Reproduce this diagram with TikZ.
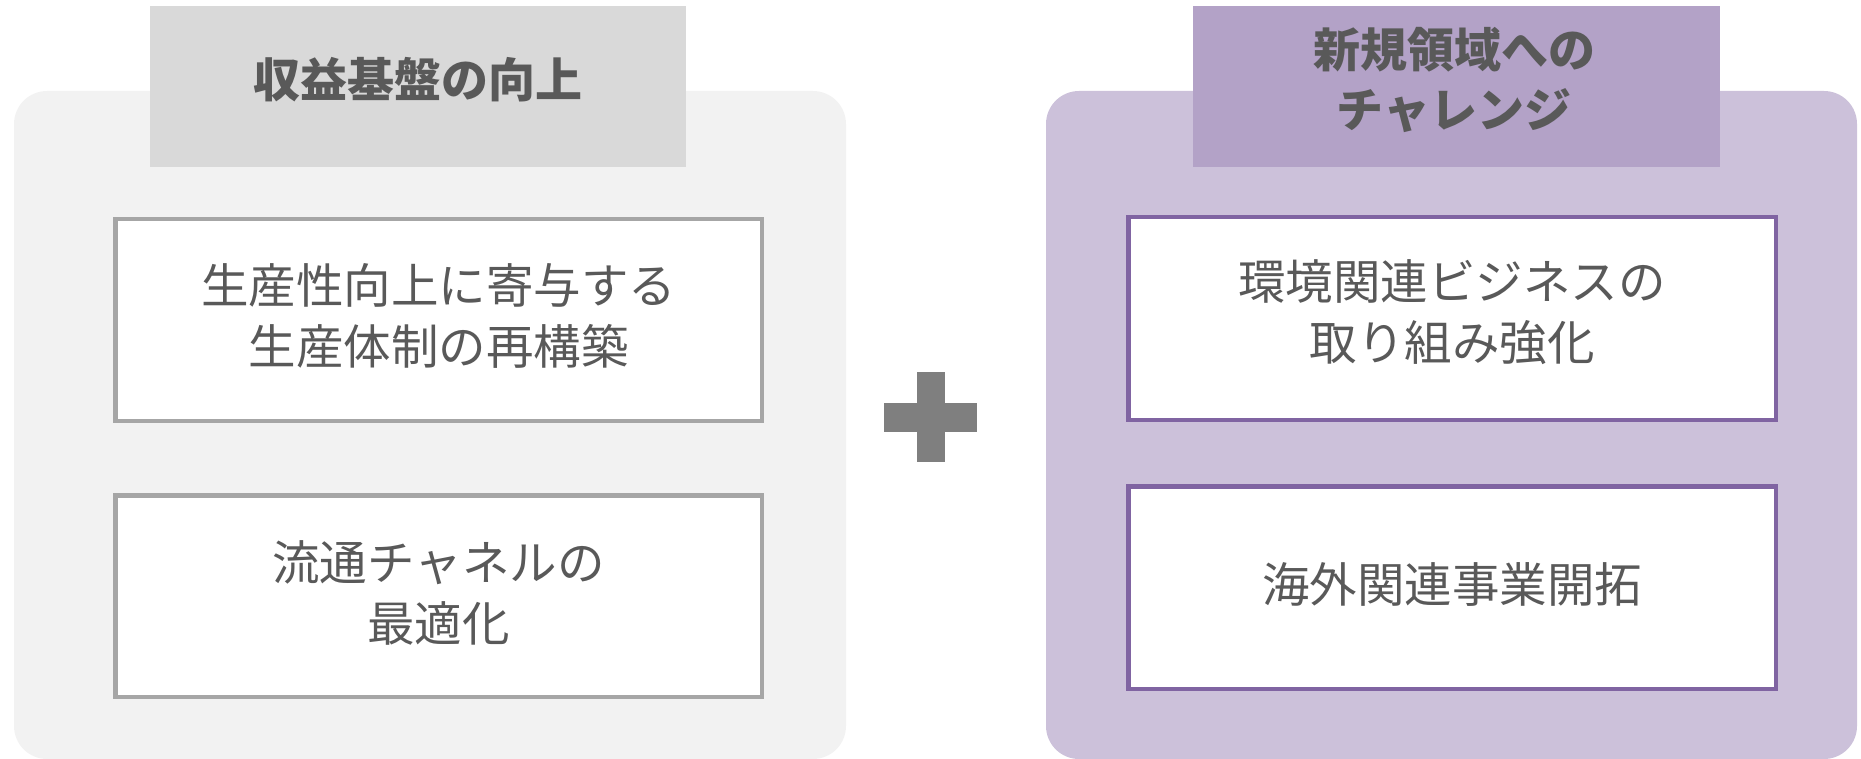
\documentclass[tikz,border=0pt]{standalone}
\usepackage{fontspec}
\newfontfamily\cjk{Noto Sans CJK JP}
\definecolor{txt}{HTML}{595959}
\definecolor{lpanel}{HTML}{F2F2F2}
\definecolor{lhead}{HTML}{D9D9D9}
\definecolor{lborder}{HTML}{A6A6A6}
\definecolor{rpanel}{HTML}{CCC1DA}
\definecolor{rhead}{HTML}{B3A2C7}
\definecolor{rborder}{HTML}{8064A2}
\definecolor{plus}{HTML}{7F7F7F}
\tikzset{
  panel/.style={rounded corners=33pt},
  itembox/.style={draw=#1, line width=4.5pt, fill=white, inner sep=0pt},
  itemtext/.style={text=txt, align=center, inner sep=0pt, font=\cjk\fontsize{47.5}{61}\selectfont},
  titletext/.style={text=txt, align=center, inner sep=0pt, font=\cjk\bfseries\fontsize{47}{60}\selectfont}
}
\begin{document}
\begin{tikzpicture}[x=1pt,y=-1pt]
\useasboundingbox (0,0) rectangle (1861,759);
% panels
\fill[lpanel, panel] (14,91) rectangle (846,759);
\fill[rpanel, panel] (1046,91) rectangle (1857,759);
% headers
\fill[lhead] (150,6) rectangle (686,167);
\fill[rhead] (1193,6) rectangle (1720,167);
\node[titletext] (lt) at (418,80) {収益基盤の向上};
\node[titletext] (rt) at (1454,80) {新規領域への\\チャレンジ};
% boxes
\node[itembox=lborder, minimum width=646.5pt, minimum height=201.5pt] (l1) at (438.5,320) {};
\node[itembox=lborder, minimum width=646.5pt, minimum height=201.5pt] (l2) at (438.5,596) {};
\node[itembox=rborder, minimum width=647.5pt, minimum height=202.5pt] (r1) at (1452,318.5) {};
\node[itembox=rborder, minimum width=647.5pt, minimum height=202.5pt] (r2) at (1452,587.5) {};
\node[itemtext] (l1t) at ([yshift=4pt]l1.center) {生産性向上に寄与する\\生産体制の再構築};
\node[itemtext] (l2t) at ([yshift=3pt]l2.center) {流通チャネルの\\最適化};
\node[itemtext] (r1t) at ([yshift=6pt]r1.center) {環境関連ビジネスの\\取り組み強化};
\node[itemtext] (r2t) at ([yshift=3pt]r2.center) {海外関連事業開拓};
% plus sign
\fill[plus] (917,372) rectangle (945,462);
\fill[plus] (884,403) rectangle (977,432);
\end{tikzpicture}
\end{document}
